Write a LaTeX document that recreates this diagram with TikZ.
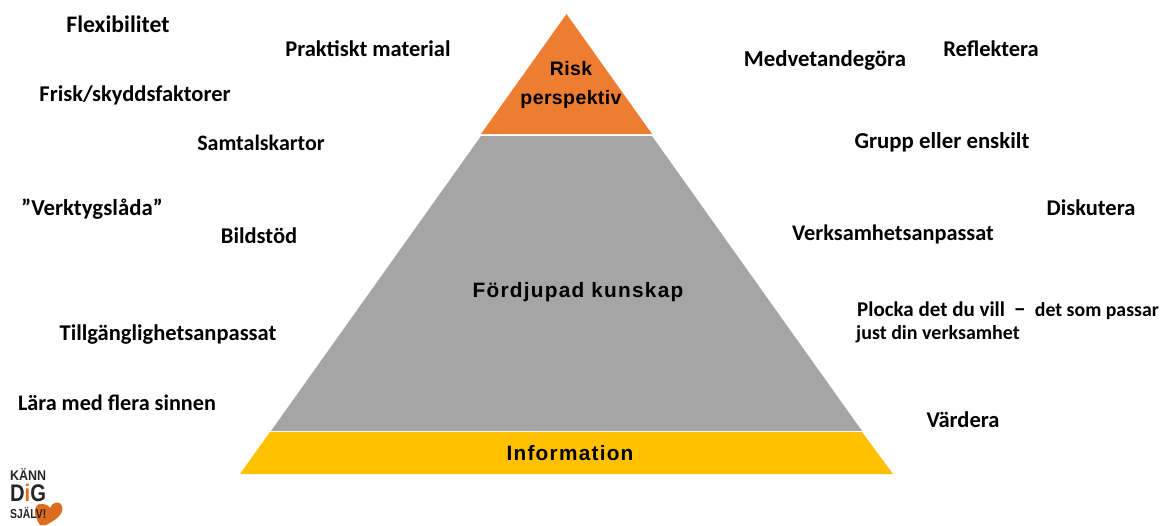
\documentclass[tikz,border=0pt]{standalone}
\usepackage{fontspec}
\setmainfont{Carlito}
\newfontfamily\pyrfont[LetterSpace=6]{Liberation Sans}
\newfontfamily\riskfont[LetterSpace=2]{Liberation Sans}
\newfontfamily\logofont{Liberation Sans}
\definecolor{riskor}{HTML}{ED7D31}
\definecolor{midgr}{HTML}{A5A5A5}
\definecolor{infoy}{HTML}{FFC000}
\definecolor{heartor}{HTML}{DD6B20}
\tikzset{
 lab/.style={anchor=center,inner sep=0pt,font=\fontsize{#1}{24}\selectfont\bfseries,text=black},
 lab/.default=22.5,
 pyr/.style={anchor=center,inner sep=0pt,font=\fontsize{20.8}{31}\selectfont\pyrfont\bfseries,text=black,align=center},
 riskpyr/.style={anchor=center,inner sep=0pt,font=\fontsize{19.5}{29}\selectfont\riskfont\bfseries,text=black,align=center},
 logo/.style={anchor=west,inner sep=0pt,text=black!85,font=\logofont\bfseries\fontsize{#1}{#1}\selectfont},
}
\begin{document}
\begin{tikzpicture}[x=1pt,y=-1pt]
\useasboundingbox (0,0) rectangle (1167,525);
\fill[riskor] (566.5,14) -- (652,134) -- (481,134) -- cycle;
\fill[midgr] (481,136) -- (652,136) -- (862,431) -- (271,431) -- cycle;
\fill[infoy] (270,432) -- (862,432) -- (893,474) -- (240,474) -- cycle;
\node[riskpyr] (risk) at (571,85) {Risk\\perspektiv};
\node[pyr] (mid) at (578,292.5) {Fördjupad kunskap};
\node[pyr] (info) at (570,453) {Information};
\node[lab=23.7] (a) at (118,24) {Flexibilitet};
\node[lab] (b) at (368,49) {Praktiskt material};
\node[lab] (c) at (135,95) {Frisk/skyddsfaktorer};
\node[lab=22] (d) at (261,143) {Samtalskartor};
\node[lab=22.8] (e) at (92,209) {”Verktygslåda”};
\node[lab] (f) at (259,236) {Bildstöd};
\node[lab] (g) at (168,335) {Tillgänglighetsanpassat};
\node[lab=22.2] (h) at (117,403) {Lära med flera sinnen};
\node[lab=22.8] (i) at (825,60) {Medvetandegöra};
\node[lab] (j) at (991,49) {Reflektera};
\node[lab=22.8] (k) at (942,142) {Grupp eller enskilt};
\node[lab] (l) at (1091,208) {Diskutera};
\node[lab=22.3] (m) at (893,234) {Verksamhetsanpassat};
\node[lab=21,anchor=west] (n) at (857,311) {Plocka det du vill\hspace{9pt}{\fontsize{24}{20}\selectfont –}\hspace{9pt}\fontsize{19.8}{20}\selectfont det som passar};
\node[lab=20,anchor=west] (o) at (856,334.5) {just din verksamhet};
\node[lab] (p) at (963,420) {Värdera};
\fill[heartor] (40,525) .. controls (32,514) and (34,503) .. (42,504)
  .. controls (46,504) and (49,506) .. (50,508)
  .. controls (52,502) and (60,500) .. (62,506)
  .. controls (65,514) and (54,521) .. (46,525) -- cycle;
\node[logo=14,xscale=.89] (k1) at (10,475) {KÄNN};
\node[logo=24,xscale=.84] (k2) at (10,493) {D{\color{heartor}i}G};
\node[logo=13,xscale=.8] (k3) at (10,513) {SJÄLV!};
\end{tikzpicture}
\end{document}
